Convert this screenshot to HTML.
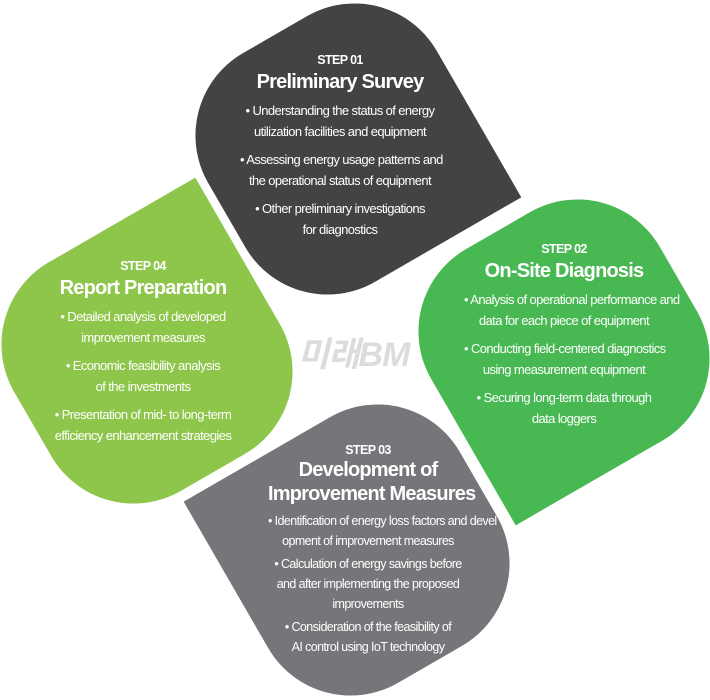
<!DOCTYPE html>
<html><head><meta charset="utf-8"><style>
html,body{margin:0;padding:0;background:#fff;width:710px;height:700px;overflow:hidden}
body{position:relative;font-family:"Liberation Sans","Noto Sans CJK KR",sans-serif;color:#fff}
.t{position:absolute;text-align:center;white-space:nowrap;letter-spacing:-0.6px}
.s{font-size:12.5px;font-weight:bold;line-height:16px}
.h{font-size:20px;font-weight:bold;line-height:28px;letter-spacing:-0.8px}
.b{font-size:13px;line-height:21px;margin-top:7px}
.b3{font-size:12.5px;line-height:20px;margin-top:3px}
.wm{position:absolute;left:298px;top:327px;font-size:34px;font-weight:bold;font-style:italic;color:#dcdcdc;letter-spacing:-1px;font-family:"Liberation Sans","Noto Sans CJK KR",sans-serif}
</style></head><body>
<svg width="710" height="700" style="position:absolute;left:0;top:0">
<defs>
<path id="d" d="M -132 -37 A 95 95 0 0 1 -37 -132 L 37 -132 A 95 95 0 0 1 132 -37 L 132 132 L -37 132 A 95 95 0 0 1 -132 37 Z"/>
</defs>
<use href="#d" fill="#434343" transform="translate(341,149) rotate(-30)"/>
<use href="#d" fill="#48b853" transform="translate(564,345) rotate(-30) scale(-1,1)"/>
<use href="#d" fill="#8dc64a" transform="translate(147,358) rotate(-30) scale(1,-1)"/>
<use href="#d" fill="#757679" transform="translate(364,550) rotate(-30) scale(-1,-1)"/>
</svg>
<div class="wm">미래BM</div>

<div class="t" style="left:240px;width:200px;top:52px">
<div class="s">STEP 01</div>
<div class="h">Preliminary Survey</div>
<div class="b" style="margin-top:4px">• Understanding the status of energy<br>utilization facilities and equipment</div>
<div class="b">• Assessing energy usage patterns and<br>the operational status of equipment</div>
<div class="b">• Other preliminary investigations<br>for diagnostics</div>
</div>

<div class="t" style="left:464px;width:200px;top:241px">
<div class="s">STEP 02</div>
<div class="h">On-Site Diagnosis</div>
<div class="b" style="margin-top:4px">• Analysis of operational performance and<br>data for each piece of equipment</div>
<div class="b">• Conducting field-centered diagnostics<br>using measurement equipment</div>
<div class="b">• Securing long-term data through<br>data loggers</div>
</div>

<div class="t" style="left:43px;width:200px;top:258px">
<div class="s">STEP 04</div>
<div class="h">Report Preparation</div>
<div class="b" style="margin-top:4px">• Detailed analysis of developed<br>improvement measures</div>
<div class="b">• Economic feasibility analysis<br>of the investments</div>
<div class="b">• Presentation of mid- to long-term<br>efficiency enhancement strategies</div>
</div>

<div class="t" style="left:268px;width:200px;top:442px">
<div class="s">STEP 03</div>
<div class="h" style="line-height:24px">Development of<br>Improvement Measures</div>
<div class="b3" style="margin-top:5px">• Identification of energy loss factors and devel<br>opment of improvement measures</div>
<div class="b3">• Calculation of energy savings before<br>and after implementing the proposed<br>improvements</div>
<div class="b3">• Consideration of the feasibility of<br>AI control using IoT technology</div>
</div>
</body></html>
